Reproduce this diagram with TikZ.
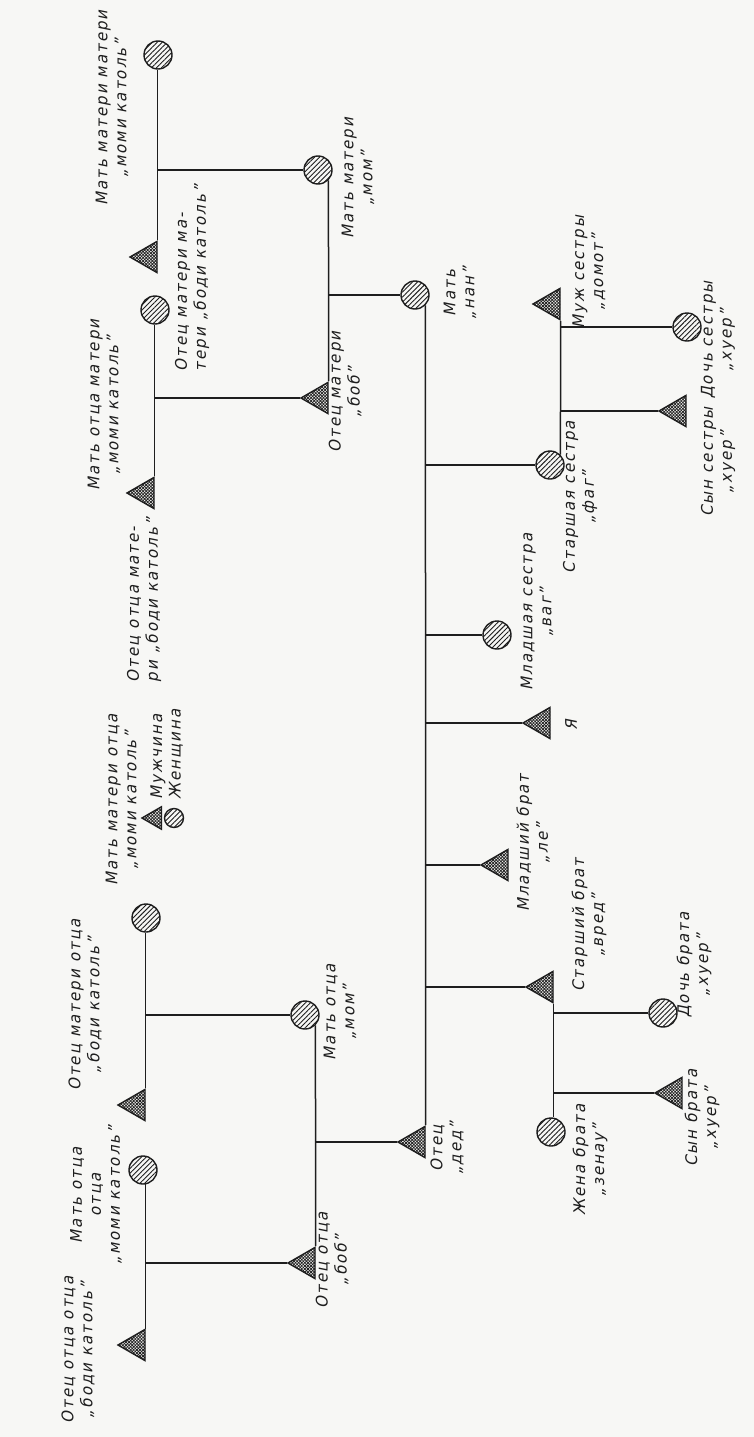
\documentclass[tikz,border=0pt]{standalone}
\usepackage{fontspec}
\newfontfamily\lbl{DejaVu Sans}[FakeSlant=0.2,FakeStretch=0.95,LetterSpace=12]
\usetikzlibrary{shapes.geometric,patterns.meta}
\definecolor{paper}{RGB}{247,247,245}
\definecolor{ink}{RGB}{30,30,30}
\begin{document}
\begin{tikzpicture}[x=1pt,y=-1pt,
  man/.style={regular polygon, regular polygon sides=3, shape border rotate=90,
    minimum size=36pt, inner sep=0pt, draw=ink, line width=1.4pt,
    pattern={Lines[angle=45,distance=2.2pt,line width=0.75pt]}, pattern color=ink,
    postaction={pattern={Lines[angle=-45,distance=2.2pt,line width=0.75pt]}, pattern color=ink}},
  woman/.style={circle, minimum size=28pt, inner sep=0pt, draw=ink, line width=1.4pt,
    pattern={Lines[angle=45,distance=3.5pt,line width=0.9pt]}, pattern color=ink},
  lab/.style={rotate=90, align=center, font=\lbl\fontsize{16}{19}\selectfont, text=ink, inner sep=0pt},
  labl/.style={lab, align=left},
  link/.style={draw=ink, line width=1.5pt}
]
\path[use as bounding box, fill=paper] (0,0) rectangle (754,1437);

% symbols
\node[man] (T1) at (136,1345) {};
\node[woman] (C1) at (143,1170) {};
\node[man] (T2) at (136,1105) {};
\node[woman] (C2) at (146,918) {};
\node[man] (T3) at (145,493) {};
\node[woman] (C3) at (155,310) {};
\node[man] (T4) at (148,257) {};
\node[woman] (C4) at (158,55) {};
\node[man] (T5) at (306,1263) {};
\node[woman] (C5) at (305,1015) {};
\node[man] (T6) at (319,398) {};
\node[woman] (C6) at (318,170) {};
\node[man] (T7) at (416,1142) {};
\node[woman] (C7) at (415,295) {};
\node[woman] (C9) at (550,465) {};
\node[woman] (C8) at (497,635) {};
\node[man] (T10) at (541,723) {};
\node[man] (T9) at (499,865) {};
\node[man] (T8) at (544,987) {};
\node[woman] (C10) at (551,1132) {};
\node[woman] (C11) at (663,1013) {};
\node[man] (T12) at (673,1093) {};
\node[man] (T11) at (551,304) {};
\node[woman] (C12) at (687,327) {};
\node[man] (T13) at (677,411) {};

% connectors
\draw[link] (T1.corner 3) -- (T1.corner 3 |- C1.south);
\draw[link] (T1.corner 3 |- T5.corner 1) -- (T5.corner 1);
\draw[link] (T2.corner 3) -- (T2.corner 3 |- C2.south);
\draw[link] (T2.corner 3 |- C5.west) -- (C5.west);
\draw[link] (T3.corner 3) -- (T3.corner 3 |- C3.south);
\draw[link] (T3.corner 3 |- T6.corner 1) -- (T6.corner 1);
\draw[link] (T4.corner 3) -- (T4.corner 3 |- C4.south);
\draw[link] (T4.corner 3 |- C6.west) -- (C6.west);
\draw[link] (T5.corner 3) -- (C5.-45);
\draw[link] (T5.corner 3 |- T7.corner 1) -- (T7.corner 1);
\draw[link] (T6.corner 3) -- (C6.-45);
\draw[link] (T6.corner 3 |- C7.west) -- (C7.west);
\draw[link] (T7.corner 3) -- (C7.-45);
\draw[link] (T7.corner 3 |- C9.west) -- (C9.west);
\draw[link] (T7.corner 3 |- C8.west) -- (C8.west);
\draw[link] (T7.corner 3 |- T10.corner 1) -- (T10.corner 1);
\draw[link] (T7.corner 3 |- T9.corner 1) -- (T9.corner 1);
\draw[link] (T7.corner 3 |- T8.corner 1) -- (T8.corner 1);
\draw[link] (T8.corner 2) -- (T8.corner 2 |- C10.north);
\draw[link] (T8.corner 2 |- C11.west) -- (C11.west);
\draw[link] (T8.corner 2 |- T12.corner 1) -- (T12.corner 1);
\draw[link] (T11.corner 2) -- (C9.45);
\draw[link] (T11.corner 2 |- C12.west) -- (C12.west);
\draw[link] (T11.corner 2 |- T13.corner 1) -- (T13.corner 1);

% legend
\node[man, minimum size=26pt] (LM) at (155,818) {};
\node[woman, minimum size=19pt] (LW) at (174,818) {};
\node[lab, anchor=west] (LMt) at (158,800) {Мужчина};
\node[lab, anchor=west] (LWt) at (176,800) {Женщина};

% labels
\node[lab] (L1) at (78,1350) {Отец отца отца\\„боди католь”};
\node[lab] (L2) at (96,1195) {Мать отца\\отца\\„моми католь”};
\node[lab] (L3) at (85,1005) {Отец матери отца\\„боди католь”};
\node[lab] (L4) at (122,800) {Мать матери отца\\„моми католь”};
\node[labl] (L5) at (144,600) {Отец отца мате-\\ри „боди католь”};
\node[lab] (L6) at (104,405) {Мать отца матери\\„моми католь”};
\node[labl] (L7) at (192,278) {Отец матери ма-\\тери „боди католь”};
\node[lab] (L8) at (112,108) {Мать матери матери\\„моми католь”};
\node[lab] (L9) at (332,1260) {Отец отца\\„боб”};
\node[lab] (L10) at (340,1012) {Мать отца\\„мом”};
\node[lab] (L11) at (345,392) {Отец матери\\„боб”};
\node[lab] (L12) at (358,178) {Мать матери\\„мом”};
\node[lab] (L13) at (447,1148) {Отец\\„дед”};
\node[lab] (L14) at (460,293) {Мать\\„нан”};
\node[lab] (L15) at (590,1160) {Жена брата\\„зенау”};
\node[lab] (L16) at (589,925) {Старший брат\\„вред”};
\node[lab] (L17) at (533,843) {Младший брат\\„ле”};
\node[lab] (L18) at (571,725) {Я};
\node[lab] (L19) at (537,612) {Младшая сестра\\„ваг”};
\node[lab] (L20) at (580,497) {Старшая сестра\\„фаг”};
\node[lab] (L21) at (589,272) {Муж сестры\\„домот”};
\node[lab] (L22) at (718,462) {Сын сестры\\„хуер”};
\node[lab] (L23) at (718,340) {Дочь сестры\\„хуер”};
\node[lab] (L24) at (702,1118) {Сын брата\\„хуер”};
\node[lab] (L25) at (694,965) {Дочь брата\\„хуер”};
\end{tikzpicture}
\end{document}
